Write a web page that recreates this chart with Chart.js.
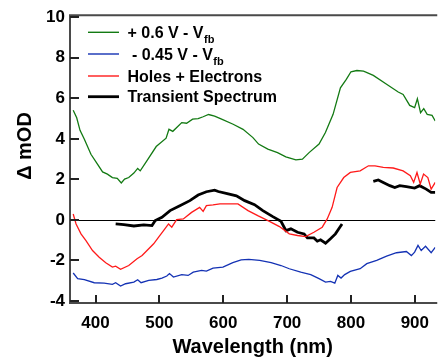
<!DOCTYPE html>
<html>
<head>
<meta charset="utf-8">
<script src="https://cdn.jsdelivr.net/npm/chart.js@4.4.0/dist/chart.umd.min.js"></script>
<style>
  html, body { margin: 0; padding: 0; background: #fff; }
  #wrap { width: 439px; height: 357px; position: relative; }
</style>
</head>
<body>
<div id="wrap"><canvas id="c" width="439" height="357"></canvas></div>
<script>
// ---- data ----
const xTicks = [400, 500, 600, 700, 800, 900];
const yTicks = [-4, -2, 0, 2, 4, 6, 8, 10];

const greenWl = [365,370.5,375.7,382.5,392.8,403,411,418.6,426.4,434,440.3,445.5,452,460,466,470,480.6,495,510.5,515,521,535,542.6,552,560.7,568.5,577,586.5,597.4,615.5,631,646.5,655.3,669.8,685,698,713.7,724,734.4,750,760,772,783.5,792.7,800,809.3,819.7,835,855.8,874,881.7,892,899.7,904,909,914,919.4,927,932];
const greenOD = [5.41,5.04,4.42,3.98,3.24,2.75,2.37,2.26,2.09,2.05,1.82,2.01,2.09,2.31,2.54,2.42,2.92,3.62,4.03,4.47,4.37,4.8,4.77,4.97,5.0,5.09,5.2,5.12,4.97,4.72,4.47,4.06,3.74,3.49,3.32,3.11,2.96,3.0,3.32,3.74,4.31,5.21,6.52,6.93,7.31,7.37,7.34,7.13,6.69,6.31,6.19,5.65,5.54,5.98,5.29,5.49,5.21,5.16,4.88];

const blueWl = [365,372,382.5,398,413.5,426.4,431.5,439.2,447,460,466,471.3,483.3,496,504,511.6,515.8,522,535,545,553,566,573.6,584,599.5,615,628,640,657,675,690.4,703.4,721.4,737,750,760.2,768,774.7,779.4,784.5,790.2,799,814.4,824.8,840.3,855.8,871.3,886.8,894.6,899.7,905,910,916.8,925.6,932];
const blueOD = [-2.62,-2.9,-2.95,-3.1,-3.12,-3.18,-3.1,-3.26,-3.15,-3.07,-2.95,-3.1,-2.98,-2.94,-2.87,-2.77,-2.65,-2.82,-2.7,-2.74,-2.58,-2.49,-2.53,-2.38,-2.33,-2.11,-1.97,-1.95,-2.0,-2.11,-2.25,-2.41,-2.58,-2.7,-2.9,-3.07,-3.03,-3.12,-2.74,-2.87,-2.7,-2.54,-2.41,-2.16,-2.0,-1.79,-1.62,-1.56,-1.76,-1.59,-1.26,-1.51,-1.3,-1.62,-1.35];

const redWl = [365,369.5,377.2,385,395.3,405.7,416,426.4,431.5,439.2,452,465,472.9,480.6,491,498.8,506.5,514.3,519.4,527,537.5,550.4,563,568.5,573.6,584,594.8,610.4,623,638.8,654,672.4,688,703.4,716.3,729,742,755,762.8,770.5,778.3,788.7,799,814.4,827.4,837.7,850.6,866.2,881.7,893,898.2,903.4,908.5,913.7,920.4,925.6,932];
const redOD = [0.29,-0.2,-0.69,-1.02,-1.51,-1.84,-2.11,-2.33,-2.28,-2.44,-2.25,-1.92,-1.76,-1.51,-1.18,-0.85,-0.53,-0.2,-0.36,0.01,0.05,0.37,0.62,0.42,0.7,0.74,0.79,0.79,0.79,0.46,0.21,-0.07,-0.33,-0.69,-0.77,-0.82,-0.61,-0.36,0.05,0.62,1.6,2.09,2.34,2.42,2.67,2.67,2.59,2.56,2.42,2.18,1.85,2.34,1.77,2.26,2.09,1.52,1.85];

const blackWl = [431.5,444.4,460,475.5,488.4,493.5,504,516.7,532,547.7,560.7,573.6,586.5,592.2,607.8,620.6,633.6,649,662,677.6,690.4,698.2,705.9,716.3,726.6,731.8,742,747.3,752.4,760.2,767.9,775.7,781,786,810,835,842.8,850.6,860.9,868.6,876.4,886.8,899.7,907.5,917.8,925.6,932];
const blackOD = [-0.2,-0.23,-0.3,-0.25,-0.28,-0.03,0.13,0.46,0.7,0.95,1.23,1.39,1.47,1.4,1.28,1.19,0.95,0.75,0.46,0.16,-0.07,-0.53,-0.44,-0.61,-0.69,-0.89,-0.89,-1.05,-0.98,-1.15,-0.93,-0.69,-0.44,-0.2,null,1.9,1.97,1.85,1.69,1.6,1.69,1.64,1.57,1.69,1.52,1.36,1.36];

const seriesMain = ['+ 0.6 V - V', ' - 0.45 V - V', 'Holes + Electrons', 'Transient Spectrum'];
const seriesSub  = ['fb', 'fb', '', ''];
const seriesColors = ['#137a13', '#1432b4', '#ff1a1a', '#000000'];
const seriesWidths = [1.3, 1.3, 1.3, 2.8];

const pts = (xs, ys) => xs.map((x, i) => ({ x: x, y: ys[i] }));
const allData = [pts(greenWl, greenOD), pts(blueWl, blueOD), pts(redWl, redOD), pts(blackWl, blackOD)];

const FONT = "'Liberation Sans', Arial, Helvetica, sans-serif";

const decor = {
  id: 'decor',
  beforeDatasetsDraw(chart) {
    const { ctx, chartArea: a, scales: { y } } = chart;
    const y0 = Math.round(y.getPixelForValue(0)) + 0.5;
    ctx.save();
    ctx.strokeStyle = '#000';
    ctx.lineWidth = 1;
    ctx.beginPath();
    ctx.moveTo(a.left, y0);
    ctx.lineTo(a.right, y0);
    ctx.stroke();
    ctx.restore();
  },
  afterDraw(chart) {
    const { ctx, chartArea: a, scales: { x, y } } = chart;
    ctx.save();
    // frame
    ctx.strokeStyle = '#4a4a4a';
    ctx.lineWidth = 2;
    ctx.beginPath();
    ctx.moveTo(a.right + 2, a.top);
    ctx.lineTo(a.left, a.top);
    ctx.lineTo(a.left, a.bottom);
    ctx.lineTo(a.right + 2, a.bottom);
    ctx.stroke();
    // inward ticks
    ctx.strokeStyle = '#222';
    ctx.lineWidth = 2;
    y.ticks.forEach(t => {
      const py = Math.round(y.getPixelForValue(t.value));
      ctx.beginPath();
      ctx.moveTo(a.left, py);
      ctx.lineTo(a.left + 9, py);
      ctx.stroke();
    });
    x.ticks.forEach(t => {
      const px = Math.round(x.getPixelForValue(t.value));
      ctx.beginPath();
      ctx.moveTo(px, a.bottom);
      ctx.lineTo(px, a.bottom - 8);
      ctx.stroke();
    });
    // y-axis title
    ctx.fillStyle = '#000';
    ctx.font = 'bold 20px ' + FONT;
    ctx.textAlign = 'center';
    ctx.textBaseline = 'middle';
    ctx.translate(25, 146);
    ctx.rotate(-Math.PI / 2);
    ctx.fillText('\u0394 mOD', 0, 0);
    ctx.setTransform(1, 0, 0, 1, 0, 0);
    // legend
    const rowY = [32.3, 54, 76, 96.7];
    chart.data.datasets.forEach((ds, i) => {
      const ly = rowY[i];
      ctx.strokeStyle = ds.borderColor;
      ctx.lineWidth = i === 3 ? 2.8 : 1.4;
      ctx.beginPath();
      ctx.moveTo(88, ly);
      ctx.lineTo(119, ly);
      ctx.stroke();
      ctx.fillStyle = '#000';
      ctx.textAlign = 'left';
      ctx.textBaseline = 'alphabetic';
      ctx.font = 'bold 16px ' + FONT;
      const base = ly + 5.5;
      ctx.fillText(ds.mainText, 127.5, base);
      if (ds.subText) {
        const w = ctx.measureText(ds.mainText).width;
        ctx.font = 'bold 11px ' + FONT;
        ctx.fillText(ds.subText, 127.5 + w + 0.5, base + 5);
      }
    });
    ctx.restore();
  }
};

new Chart(document.getElementById('c'), {
  type: 'line',
  data: {
    datasets: allData.map((d, i) => ({
      label: seriesMain[i] + seriesSub[i],
      mainText: seriesMain[i],
      subText: seriesSub[i],
      data: d,
      borderColor: seriesColors[i],
      backgroundColor: seriesColors[i],
      borderWidth: seriesWidths[i],
      pointRadius: 0,
      tension: 0,
      spanGaps: false,
      fill: false
    }))
  },
  options: {
    responsive: false,
    animation: false,
    devicePixelRatio: 1,
    layout: { padding: { top: 14, right: 0, left: 0, bottom: 0 } },
    plugins: { legend: { display: false }, tooltip: { enabled: false } },
    scales: {
      x: {
        type: 'linear',
        min: 360,
        max: 932,
        grid: { display: false, drawTicks: false },
        border: { display: false },
        afterBuildTicks: s => { s.ticks = xTicks.map(v => ({ value: v })); },
        afterFit: s => { s.height = 54; },
        ticks: {
          color: '#000',
          font: { family: FONT, size: 17, weight: 'bold' },
          padding: 10,
          maxRotation: 0,
          autoSkip: false
        },
        title: {
          display: true,
          text: 'Wavelength (nm)',
          color: '#000',
          font: { family: FONT, size: 20, weight: 'bold' },
          padding: { top: 0, bottom: -2 }
        }
      },
      y: {
        type: 'linear',
        min: -4.1,
        max: 10.1,
        grid: { display: false, drawTicks: false },
        border: { display: false },
        afterBuildTicks: s => { s.ticks = yTicks.map(v => ({ value: v })); },
        afterFit: s => { s.width = 70; },
        ticks: {
          color: '#000',
          font: { family: FONT, size: 17, weight: 'bold' },
          padding: 5,
          autoSkip: false
        }
      }
    }
  },
  plugins: [decor]
});
</script>
</body>
</html>
